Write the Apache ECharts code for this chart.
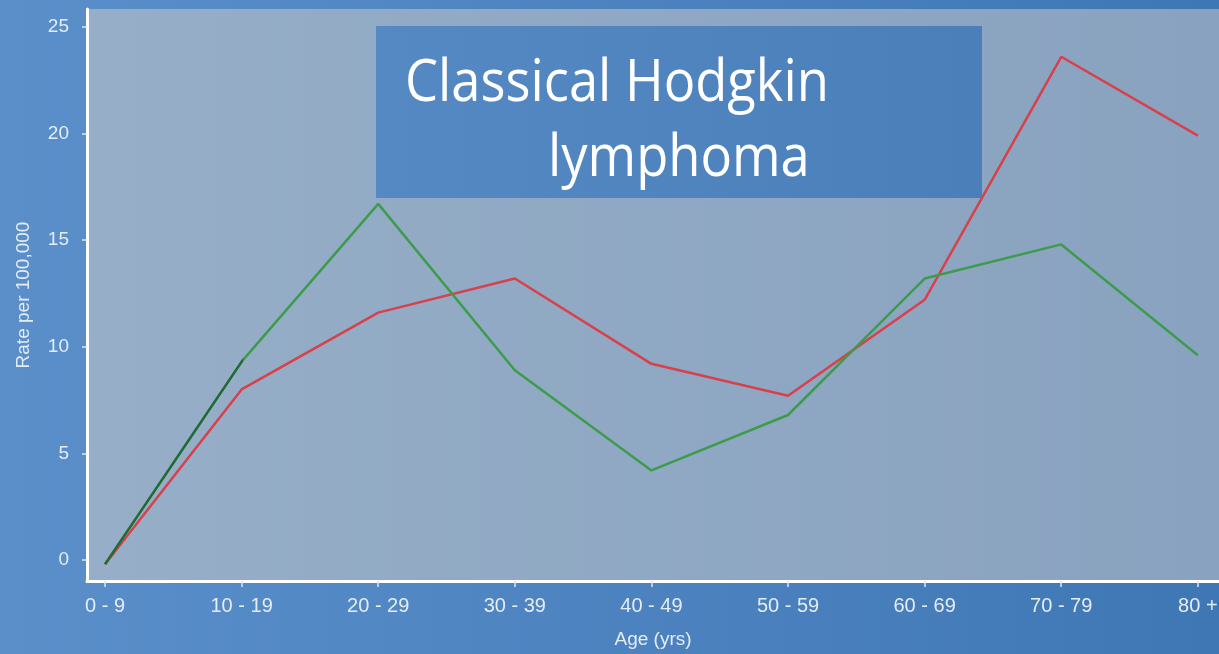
<!DOCTYPE html>
<html><head><meta charset="utf-8">
<script src="https://cdn.jsdelivr.net/npm/echarts@6/dist/echarts.min.js"></script>
<style>html,body{margin:0;padding:0;}#c{width:1219px;height:654px;}</style>
</head><body><div id="c"></div>
<script>
const categories = ['0 - 9','10 - 19','20 - 29','30 - 39','40 - 49','50 - 59','60 - 69','70 - 79','80 +'];
const redValues = [-0.2, 8.0, 11.6, 13.2, 9.2, 7.7, 12.2, 23.6, 19.9];
const greenValues = [-0.2, 9.3, 16.7, 8.9, 4.2, 6.8, 13.2, 14.8, 9.6];
const yTicks = [0, 5, 10, 15, 20, 25];
const titleLines = ['Classical Hodgkin', 'lymphoma'];

const xTicks = categories.map((c, i) => i);
const pairs = v => v.map((y, i) => [i, y]);
const labelColor = '#e4ecf5';
const font = 'Liberation Sans';

const chart = echarts.init(document.getElementById('c'));
chart.setOption({
  animation: false,
  backgroundColor: {type:'linear', x:0, y:0, x2:1, y2:0, colorStops:[{offset:0,color:'#5a8fca'},{offset:1,color:'#3f77b5'}]},
  grid: {left: 87, top: 9, right: 0, bottom: 73, show: true, borderWidth: 0, containLabel: false, outerBoundsMode: 'none',
    backgroundColor: {type:'linear', x:0, y:0, x2:1, y2:0, colorStops:[{offset:0,color:'#96aec7'},{offset:1,color:'#89a2bf'}]}},
  xAxis: {
    type: 'value', min: -0.132, max: 8.155,
    splitLine: {show: false},
    axisLine: {show: true, onZero: false, lineStyle: {color: '#ffffff', width: 3}},
    axisTick: {show: true, customValues: xTicks, length: 6, lineStyle: {color: '#dde6f0', width: 1.5}},
    axisLabel: {customValues: xTicks, formatter: v => categories[Math.round(v)], color: labelColor, fontSize: 20, fontFamily: font, margin: 15},
    name: 'Age (yrs)', nameLocation: 'middle', nameGap: 49,
    nameTextStyle: {color: labelColor, fontSize: 19, fontFamily: font}
  },
  yAxis: {
    type: 'value', min: -0.985, max: 25.84,
    splitLine: {show: false},
    axisLine: {show: true, onZero: false, lineStyle: {color: '#ffffff', width: 3}},
    axisTick: {show: true, customValues: yTicks, length: 5, lineStyle: {color: '#dde6f0', width: 1.5}},
    axisLabel: {customValues: yTicks, color: labelColor, fontSize: 19, fontFamily: font, margin: 18},
    name: 'Rate per 100,000', nameLocation: 'middle', nameGap: 54, nameRotate: 90,
    nameTextStyle: {color: labelColor, fontSize: 19, fontFamily: font}
  },
  series: [
    {type: 'line', data: pairs(redValues), symbol: 'none', lineStyle: {color: '#d8404b', width: 2.5}, z: 3},
    {type: 'line', data: pairs(greenValues), symbol: 'none', z: 4,
      lineStyle: {width: 2.5, color: {type:'linear', x:0, y:0, x2:1219, y2:0, global:true,
        colorStops:[{offset:0,color:'#1f6b33'},{offset:0.199,color:'#1f6b33'},{offset:0.2,color:'#3c9c4c'},{offset:1,color:'#3c9c4c'}]}}}
  ],
  graphic: [
    {type: 'rect', shape: {x: 376, y: 26, width: 606, height: 172}, z: 10,
      style: {fill: {type:'linear', x:0, y:0, x2:1, y2:0, colorStops:[{offset:0,color:'#5589c3'},{offset:1,color:'#4a7fb9'}]}}},
    {type: 'text', x: 405, y: 55, scaleX: 0.905, z: 11,
      style: {text: titleLines[0], fill: '#ffffff', font: '58px "Open Sans"'}},
    {type: 'text', x: 548, y: 130, scaleX: 0.905, z: 11,
      style: {text: titleLines[1], fill: '#ffffff', font: '58px "Open Sans"'}}
  ]
});
</script></body></html>
